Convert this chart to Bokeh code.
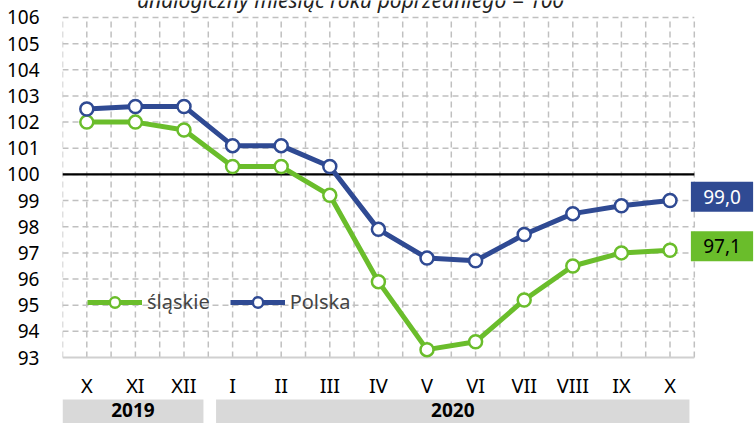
import numpy as np
from bokeh.plotting import figure
from bokeh.models import Range1d, FixedTicker, Legend, LegendItem, ColumnDataSource
from bokeh.core.properties import value
from bokeh.embed import file_html
from bokeh.resources import INLINE

# ---- data ----
months = ["X", "XI", "XII", "I", "II", "III", "IV", "V", "VI", "VII", "VIII", "IX", "X"]
years = ["2019", "2020"]
year_counts = [3, 10]
slaskie = [102.0, 102.0, 101.7, 100.3, 100.3, 99.2, 95.9, 93.3, 93.6, 95.2, 96.5, 97.0, 97.1]
polska = [102.5, 102.6, 102.6, 101.1, 101.1, 100.3, 97.9, 96.8, 96.7, 97.7, 98.5, 98.8, 99.0]
y_ticks = list(range(93, 107))
reference_level = 100
title_text = "analogiczny miesiąc roku poprzedniego = 100"

BLUE = "#2f4a93"
GREEN = "#6abd2b"
GRID = "#c0c0c0"
FONT = "Noto Sans"

n = len(months)
xs = np.arange(n) + 0.5

px_per_unit = 26.154
y_min, y_max = y_ticks[0], y_ticks[-1]
y_top = y_min + 357 / px_per_unit
y_bot = y_min - 66 / px_per_unit

p = figure(width=754, height=423, output_backend="svg", toolbar_location=None,
           x_range=Range1d(0, 692 / 48.6), y_range=Range1d(y_bot, y_top),
           x_axis_location=None, min_border_left=62, min_border_right=0,
           min_border_top=0, min_border_bottom=0)
p.outline_line_color = None
p.xgrid.visible = False
p.ygrid.visible = False

ax = p.yaxis[0]
ax.ticker = FixedTicker(ticks=y_ticks)
ax.axis_line_color = None
ax.major_tick_line_color = None
ax.minor_tick_line_color = None
ax.major_label_text_font = FONT
ax.major_label_text_font_size = "19px"
ax.major_label_text_color = "black"
ax.major_label_standoff = 17

# grid (dashed)
hy = [t for t in y_ticks if t != y_min]
p.segment(x0=[0] * len(hy), x1=[n] * len(hy), y0=hy, y1=hy,
          line_color=GRID, line_width=1.5, line_dash="6 4")
vx = list(np.arange(0, n + 0.01, 0.5))
p.segment(x0=vx, x1=vx, y0=[y_min] * len(vx), y1=[y_max] * len(vx),
          line_color=GRID, line_width=1.5, line_dash="6 4")
# base line
p.segment(x0=[0], x1=[n], y0=[y_min], y1=[y_min], line_color="#d0d0d0", line_width=2)
# reference line at 100
p.segment(x0=[0], x1=[n], y0=[reference_level], y1=[reference_level],
          line_color="black", line_width=2.2)

# series
src_s = ColumnDataSource(dict(x=xs, y=slaskie))
src_p = ColumnDataSource(dict(x=xs, y=polska))
l1 = p.line("x", "y", source=src_s, line_color=GREEN, line_width=5)
c1 = p.scatter("x", "y", source=src_s, size=13, fill_color="white",
               line_color=GREEN, line_width=2.5)
l2 = p.line("x", "y", source=src_p, line_color=BLUE, line_width=5)
c2 = p.scatter("x", "y", source=src_p, size=13, fill_color="white",
               line_color=BLUE, line_width=2.5)

legend = Legend(items=[LegendItem(label="śląskie", renderers=[l1, c1]),
                       LegendItem(label="Polska", renderers=[l2, c2])],
                orientation="horizontal", location=(25, 108),
                glyph_width=55, glyph_height=26, label_height=26,
                label_standoff=5, spacing=20, padding=0, margin=0,
                label_text_font=FONT, label_text_font_size="20px",
                border_line_color=None, background_fill_alpha=0)
p.add_layout(legend)

# end-value labels
box_x = n + 0.57
box_w = 1.28
box_h = 30 / px_per_unit
for series, col, tcol in [(polska, BLUE, "white"), (slaskie, GREEN, "black")]:
    v = series[-1]
    p.rect(x=[box_x], y=[v + 0.15], width=box_w, height=box_h,
           fill_color=col, line_color=None)
    p.text(x=[box_x], y=[v + 0.15], text=[f"{v:.1f}".replace(".", ",")],
           text_color=tcol, text_font=value(FONT), text_font_size="19px",
           text_align="center", text_baseline="middle")

# month labels
p.text(x=xs, y=[y_min - 27.5 / px_per_unit] * n, text=months,
       text_font=value(FONT), text_font_size="20px", text_color="black",
       text_align="center", text_baseline="middle")

# year bands
starts = np.cumsum([0] + year_counts[:-1])
ends = np.cumsum(year_counts)
band_l = [s + (0.16 if i > 0 else 0) for i, s in enumerate(starts)]
band_r = [e - 0.1 for e in ends]
band_top = y_min - 42 / px_per_unit
p.quad(left=band_l, right=band_r, bottom=[y_bot] * len(years), top=[band_top] * len(years),
       fill_color="#d9d9d9", line_color=None)
p.text(x=[(a + b) / 2 for a, b in zip(band_l, band_r)],
       y=[y_min - 52.5 / px_per_unit] * len(years), text=years,
       text_font=value(FONT), text_font_size="19px", text_font_style="bold",
       text_color="black", text_align="center", text_baseline="middle")

# subtitle, partly cut by the top edge as in the original
p.text(x=[(350 - 62) / 48.6], y=[y_min + (357 + 1) / px_per_unit], text=[title_text],
       text_font=value(FONT), text_font_size="21px", text_font_style="italic",
       text_color="#222222", text_align="center", text_baseline="middle")

open("out.html", "w").write(file_html(p, INLINE))
